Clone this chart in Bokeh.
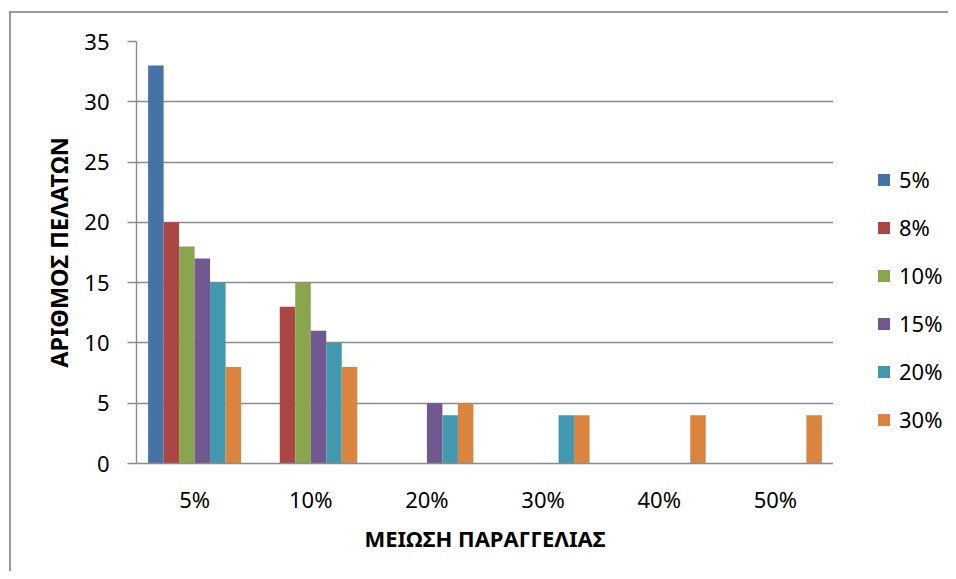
from bokeh.plotting import figure
from bokeh.layouts import row
from bokeh.models import (ColumnDataSource, FactorRange, Range1d, SingleIntervalTicker,
                          Legend, LegendItem)
from bokeh.transform import dodge
from bokeh.embed import file_html
from bokeh.resources import INLINE

# ---- data ----
categories = ["5%", "10%", "20%", "30%", "40%", "50%"]
series_names = ["5%", "8%", "10%", "15%", "20%", "30%"]
s_5 = [33, 0, 0, 0, 0, 0]
s_8 = [20, 13, 0, 0, 0, 0]
s_10 = [18, 15, 0, 0, 0, 0]
s_15 = [17, 11, 5, 0, 0, 0]
s_20 = [15, 10, 4, 4, 0, 0]
s_30 = [8, 8, 5, 4, 4, 4]
colors = ["#4572A7", "#AA4643", "#89A54E", "#71588F", "#4198AF", "#DB843D"]

series_values = [s_5, s_8, s_10, s_15, s_20, s_30]
keys = ["s0", "s1", "s2", "s3", "s4", "s5"]

data = {"cat": categories}
for k, v in zip(keys, series_values):
    data[k] = v
source = ColumnDataSource(data)

FONT = "Noto Sans"
GRID = "#8c8c8c"
H = 558

p = figure(x_range=FactorRange(*categories, range_padding=0),
           y_range=Range1d(0, 35),
           width=822, height=H,
           output_backend="svg", toolbar_location=None,
           min_border_left=125, min_border_right=0,
           min_border_top=28, min_border_bottom=108)

n = len(keys)
bw = 0.8 / n
for i, (k, c) in enumerate(zip(keys, colors)):
    off = (i - (n - 1) / 2) * bw
    p.vbar(x=dodge("cat", off, range=p.x_range), top=k, width=bw,
           source=source, fill_color=c, line_color=None)

p.outline_line_color = None
p.background_fill_color = "white"
p.border_fill_color = "white"

p.xgrid.grid_line_color = None
p.ygrid.grid_line_color = GRID
p.ygrid.grid_line_width = 1.4

p.yaxis.ticker = SingleIntervalTicker(interval=5)
p.yaxis.minor_tick_line_color = None
p.yaxis.major_tick_in = 0
p.yaxis.major_tick_out = 9
p.yaxis.major_tick_line_color = GRID
p.yaxis.major_tick_line_width = 1.4
p.yaxis.axis_line_color = GRID
p.yaxis.axis_line_width = 1.4
p.yaxis.major_label_standoff = 18
p.yaxis.axis_label = "ΑΡΙΘΜΟΣ ΠΕΛΑΤΩΝ"
p.yaxis.axis_label_standoff = 6

p.xaxis.major_tick_line_color = None
p.xaxis.major_tick_in = 0
p.xaxis.major_tick_out = 0
p.xaxis.axis_line_color = GRID
p.xaxis.axis_line_width = 1.4
p.xaxis.major_label_standoff = 20
p.xaxis.axis_label = "ΜΕΙΩΣΗ ΠΑΡΑΓΓΕΛΙΑΣ"
p.xaxis.axis_label_standoff = 6

for ax in (p.xaxis, p.yaxis):
    ax.major_label_text_font = FONT
    ax.major_label_text_font_size = "22px"
    ax.major_label_text_color = "#000000"
    ax.axis_label_text_font = FONT
    ax.axis_label_text_font_style = "bold"
    ax.axis_label_text_color = "#000000"
p.xaxis.axis_label_text_font_size = "22px"
p.yaxis.axis_label_text_font_size = "23.5px"

# ---- legend panel (separate figure to the right of the plot area) ----
lg = figure(width=115, height=H, x_range=Range1d(0, 1), y_range=Range1d(0, 1),
            output_backend="svg", toolbar_location=None,
            min_border=0, x_axis_type=None, y_axis_type=None)
lg.outline_line_color = None
lg.xgrid.grid_line_color = None
lg.ygrid.grid_line_color = None
lg.background_fill_color = "white"
lg.border_fill_color = "white"

items = []
for k, name, c in zip(keys, series_names, colors):
    # zero-size proxy glyph: only used to draw the legend swatch
    r = lg.vbar(x=[0], top=[0], width=0, fill_color=c, line_color=None)
    items.append(LegendItem(label=name, renderers=[r]))

legend = Legend(items=items, location=(43, 29), padding=0, margin=0,
                glyph_width=15, glyph_height=15, label_standoff=8,
                label_height=24, spacing=18,
                label_text_font=FONT, label_text_font_size="22px",
                label_text_color="#000000",
                border_line_color=None, background_fill_alpha=0)
lg.add_layout(legend)

layout = row(p, lg)
layout.styles = {"border-left": "2px solid #9a9a9a",
                 "border-top": "2px solid #9a9a9a",
                 "overflow": "hidden",
                 "margin-left": "9px", "margin-top": "11px"}

open("out.html", "w").write(file_html(layout, INLINE))
